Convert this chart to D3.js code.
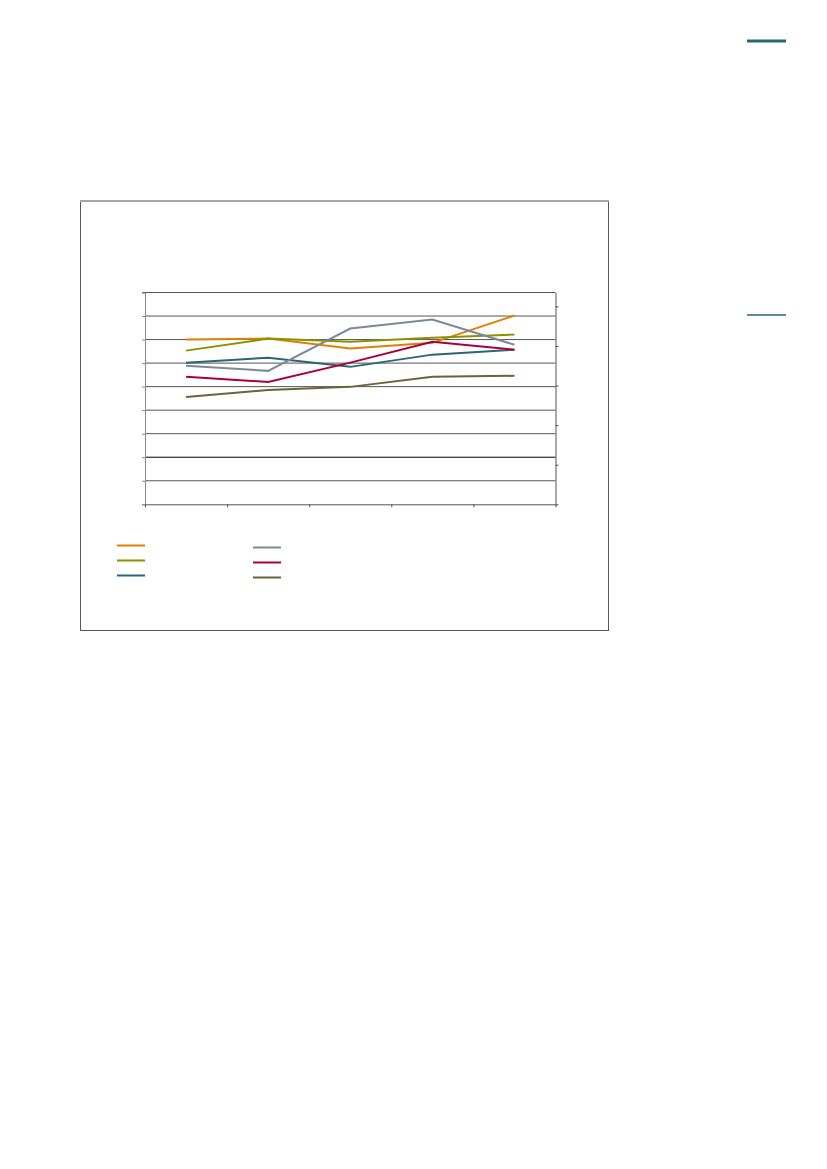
<!DOCTYPE html>
<html>
<head>
<meta charset="utf-8">
<script src="https://cdn.jsdelivr.net/npm/d3@7"></script>
<style>
  html, body { margin: 0; padding: 0; background: #fff; }
  svg { display: block; }
</style>
</head>
<body>
<svg id="page" width="827" height="1169"></svg>
<script>
// categories along the bottom (labels not printed in the original)
const categories = ["P1", "P2", "P3", "P4", "P5"];

// series values (0..90)
const seriesNames = ["A", "B", "C", "D", "E", "F"];
const orangeVals = [70.0, 70.4, 66.2, 68.6, 80.2];
const oliveVals  = [65.3, 70.4, 69.1, 70.8, 72.1];
const tealVals   = [60.2, 62.3, 58.4, 63.6, 65.7];
const grayVals   = [58.9, 56.7, 74.7, 78.5, 67.8];
const redVals    = [54.2, 52.0, 60.2, 69.1, 65.7];
const brownVals  = [45.6, 48.6, 49.9, 54.2, 54.6];

// tick values
const leftTicks = [0, 10, 20, 30, 40, 50, 60, 70, 80];
const rightTicks = [0, 0.2, 0.4, 0.6, 0.8, 1.0];

const allSeries = [orangeVals, oliveVals, tealVals, grayVals, redVals, brownVals];
const colors = ["#e08000", "#8b9200", "#2b6675", "#7d8899", "#a8003b", "#6b6339"];

const svg = d3.select("#page");

// decorative page rules at the right edge
svg.append("line").attr("x1", 747).attr("x2", 786).attr("y1", 41).attr("y2", 41)
  .attr("stroke", "#2b6675").attr("stroke-width", 3);
svg.append("line").attr("x1", 747).attr("x2", 786).attr("y1", 315).attr("y2", 315)
  .attr("stroke", "#2b6675").attr("stroke-width", 1.6);

// chart frame
svg.append("rect").attr("x", 80.5).attr("y", 201).attr("width", 528).attr("height", 429.5)
  .attr("fill", "#fff").attr("stroke", "#595959").attr("stroke-width", 1);
svg.append("line").attr("x1", 80).attr("x2", 609).attr("y1", 201).attr("y2", 201)
  .attr("stroke", "#a6a6a6").attr("stroke-width", 2);

const plot = { left: 145, right: 555.5, top: 292.5, bottom: 504.3 };

const x = d3.scaleBand().domain(categories).range([plot.left, plot.right]);
const y = d3.scaleLinear().domain([0, 90]).range([plot.bottom, plot.top]);
const yRight = d3.scaleLinear().domain([0, 1.07]).range([plot.bottom, plot.top]);

// horizontal gridlines
svg.append("g").selectAll("line")
  .data(leftTicks.slice(1))
  .join("line")
  .attr("x1", plot.left).attr("x2", plot.right)
  .attr("y1", d => y(d)).attr("y2", d => y(d))
  .attr("stroke", d => d === 20 ? "#000" : "#555")
  .attr("stroke-width", 1);

// top border of plot area
svg.append("line").attr("x1", 142).attr("x2", plot.right)
  .attr("y1", plot.top).attr("y2", plot.top).attr("stroke", "#555");

// left axis
svg.append("g")
  .attr("transform", `translate(${plot.left},0)`)
  .call(d3.axisLeft(y).tickValues(leftTicks.concat([90])).tickSize(3).tickFormat(""))
  .call(g => g.selectAll("path, line").attr("stroke", "#8a8a8a"));

// right axis
svg.append("g")
  .attr("transform", `translate(${plot.right},0)`)
  .call(d3.axisRight(yRight).tickValues(rightTicks).tickSize(3).tickSizeOuter(0).tickFormat(""))
  .call(g => g.selectAll("path, line").attr("stroke", "#555"));

// bottom axis, ticks at band edges
const xEdge = d3.scaleLinear().domain([0, categories.length]).range([plot.left, plot.right]);
svg.append("g")
  .attr("transform", `translate(0,${plot.bottom})`)
  .call(d3.axisBottom(xEdge).ticks(categories.length).tickSize(3).tickSizeOuter(0).tickFormat(""))
  .call(g => g.selectAll("path, line").attr("stroke", "#555"));

// series lines
const line = d3.line()
  .x((d, i) => x(categories[i]) + x.bandwidth() / 2)
  .y(d => y(d));

svg.append("g").selectAll("path")
  .data(allSeries)
  .join("path")
  .attr("d", d => line(d))
  .attr("fill", "none")
  .attr("stroke", (d, i) => colors[i])
  .attr("stroke-width", 2);

// legend (two columns, no text)
const legend = svg.append("g");
legend.selectAll("line")
  .data(seriesNames)
  .join("line")
  .attr("x1", (d, i) => i < 3 ? 117 : 253)
  .attr("x2", (d, i) => i < 3 ? 145 : 281)
  .attr("y1", (d, i) => i < 3 ? 545.5 + i * 15 : 547.5 + (i - 3) * 15)
  .attr("y2", (d, i) => i < 3 ? 545.5 + i * 15 : 547.5 + (i - 3) * 15)
  .attr("stroke", (d, i) => colors[i])
  .attr("stroke-width", 2);
</script>
</body>
</html>
